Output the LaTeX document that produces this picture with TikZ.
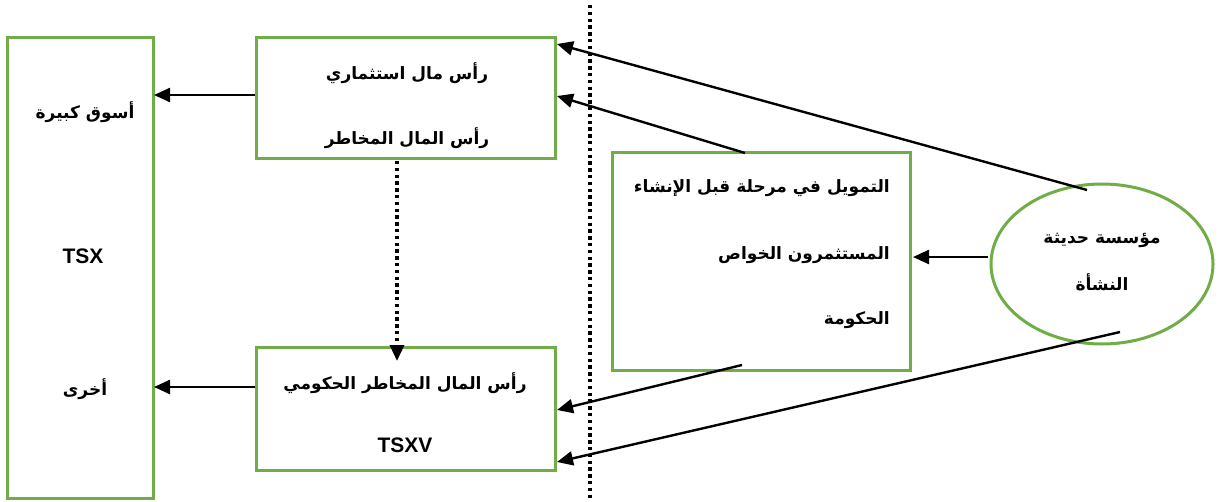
\documentclass[tikz,border=0pt]{standalone}
\usepackage{fontspec}
\usetikzlibrary{arrows.meta,shapes.geometric}
\TeXXeTstate=1
\newfontfamily\arabicfont[Script=Arabic]{DejaVu Sans}
\newfontfamily\latinfont{Liberation Sans}
\definecolor{boxgreen}{RGB}{112,173,71}
\tikzset{
  frame/.style={draw=boxgreen,line width=3pt,inner sep=0pt,fill=white},
  ar/.style={font=\arabicfont\bfseries\fontsize{17}{20}\selectfont,inner sep=0pt},
  la/.style={font=\latinfont\bfseries\fontsize{21}{24}\selectfont,inner sep=0pt},
  tip/.style={-{Triangle[length=16pt,width=14pt]}},
  link/.style={draw=black,line width=2.4pt,tip},
  dotline/.style={draw=black,line width=3.4pt,dash pattern=on 3.4pt off 3.4pt},
}
\begin{document}
\begin{tikzpicture}[x=1pt,y=-1pt]
\useasboundingbox (0,0) rectangle (1225,501);

% separator between the two sides
\coordinate (sepTop) at (590,5);
\coordinate (sepBot) at (590,499);
\draw[dotline] (sepTop) -- (sepBot);

% boxes
\node[frame,minimum width=146pt,minimum height=461pt] (markets) at (80,267.5) {};
\node[frame,minimum width=299pt,minimum height=121pt] (venture) at (405.5,97.5) {};
\node[frame,minimum width=299pt,minimum height=123pt] (govvc) at (405.5,408.5) {};
\node[frame,minimum width=298pt,minimum height=218pt] (seed) at (761,261) {};
\node[frame,ellipse,minimum width=222pt,minimum height=160pt] (startup) at (1102,264) {};

% texts
\node[ar] (m1) at (85,112) {\beginR أسوق كبيرة\endR};
\node[la] (m2) at (83,256) {TSX};
\node[ar] (m3) at (85,389) {\beginR أخرى\endR};
\node[ar] (v1) at (407,73) {\beginR رأس مال استثماري\endR};
\node[ar] (v2) at (407,138) {\beginR رأس المال المخاطر\endR};
\node[ar] (g1) at (405,383) {\beginR رأس المال المخاطر الحكومي\endR};
\node[la] (g2) at (405,445) {TSXV};
\node[ar,anchor=east] (s1) at (890,188) {\beginR التمويل في مرحلة قبل الإنشاء\endR};
\node[ar,anchor=east] (s2) at (890,255) {\beginR المستثمرون الخواص\endR};
\node[ar,anchor=east] (s3) at (890,320) {\beginR الحكومة\endR};
\node[ar] (e1) at (1102,240) {\beginR مؤسسة حديثة\endR};
\node[ar] (e2) at (1102,282) {\beginR النشأة\endR};

% connector end points
\coordinate (vOut) at (255,95);
\coordinate (mIn1) at (154,95);
\coordinate (gOut) at (255,387);
\coordinate (mIn2) at (154,387);
\coordinate (vDown) at (397,161);
\coordinate (gIn) at (397,361);
\coordinate (eOut) at (988,257);
\coordinate (sIn) at (913,257);
\coordinate (eTop) at (1087,190);
\coordinate (vIn1) at (557,44);
\coordinate (sTop) at (745,153);
\coordinate (vIn2) at (557,96);
\coordinate (sBot) at (742,365);
\coordinate (gIn1) at (557,410);
\coordinate (eBot) at (1120,332);
\coordinate (gIn2) at (557,462);

% connectors
\draw[link] (vOut) -- (mIn1);
\draw[link] (gOut) -- (mIn2);
\draw[dotline,tip] (vDown) -- (gIn);
\draw[link] (eOut) -- (sIn);
\draw[link] (eTop) -- (vIn1);
\draw[link] (sTop) -- (vIn2);
\draw[link] (sBot) -- (gIn1);
\draw[link] (eBot) -- (gIn2);
\end{tikzpicture}
\end{document}
